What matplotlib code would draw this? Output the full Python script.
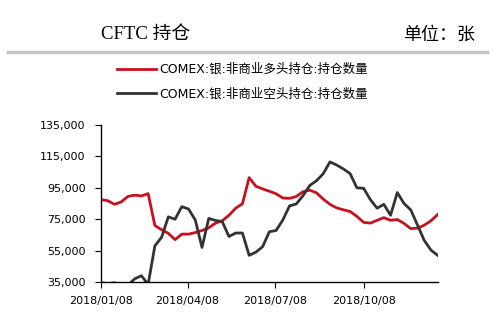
import matplotlib
matplotlib.use("Agg")
import matplotlib.pyplot as plt
import matplotlib.ticker as mticker
import pandas as pd

plt.rcParams['font.family'] = ['DejaVu Sans', 'Noto Sans CJK SC']

# weekly data, 2018/01/08 - 2018/12/24
dates = pd.date_range("2018-01-08", periods=51, freq="7D")

long_pos = [87500, 86800, 84500, 86000, 89500, 90300, 89800, 91300, 71000, 68300,
            66000, 62000, 65500, 65500, 66500, 67800, 69500, 72500, 74000, 77500,
            82000, 84800, 101500, 96000, 94300, 92800, 91200, 88500, 88300, 89500,
            92500, 93500, 91800, 87800, 84500, 82200, 81000, 79900, 76800, 73000,
            72500, 74300, 76000, 74300, 74800, 72300, 69000, 69300, 71200, 74000,
            78000]

short_pos = [34500, 34000, 34500, 32000, 33000, 37000, 39000, 33500, 58000, 63500,
             76500, 75000, 83000, 81500, 74500, 57000, 75500, 74200, 73500, 64000,
             66200, 66200, 52000, 54000, 57500, 67000, 67800, 74500, 83500, 84700,
             90000, 96500, 99500, 104000, 111500, 109500, 107000, 104000, 95000, 94700,
             87500, 82000, 84500, 77500, 92000, 85000, 80900, 71300, 61500, 55300,
             52000]

series_names = ["COMEX:银:非商业多头持仓:持仓数量", "COMEX:银:非商业空头持仓:持仓数量"]
x_ticks = ["2018-01-08", "2018-04-08", "2018-07-08", "2018-10-08"]
y_ticks = [35000, 55000, 75000, 95000, 115000, 135000]

fig = plt.figure(figsize=(5, 3.34), dpi=100)
ax = fig.add_axes([0.202, 0.1557, 0.6734, 0.470])

ax.plot(dates, long_pos, color="#c8101e", lw=2.0, label=series_names[0])
ax.plot(dates, short_pos, color="#333333", lw=2.0, label=series_names[1])

ax.set_ylim(35000, 135000)
ax.set_xlim(dates[0], dates[-1])
ax.set_yticks(y_ticks)
ax.yaxis.set_major_formatter(mticker.FuncFormatter(lambda v, p: f"{v:,.0f}"))
ax.set_xticks(pd.to_datetime(x_ticks))
ax.set_xticklabels([d.replace("-", "/") for d in x_ticks])

for s in ["top", "right"]:
    ax.spines[s].set_visible(False)
for s in ["left", "bottom"]:
    ax.spines[s].set_color("black")
    ax.spines[s].set_linewidth(1.0)
ax.tick_params(axis="y", direction="out", length=4, pad=7, labelsize=8, colors="black")
ax.tick_params(axis="x", direction="out", length=4, pad=6, labelsize=8, colors="black")

# header
fig.text(101 / 500, 1 - 35 / 334, "CFTC 持仓", fontsize=13.5, va="center", ha="left",
         family=["Liberation Serif", "Noto Sans CJK SC"])
fig.text(475 / 500, 1 - 35 / 334, "单位：张", fontsize=13, va="center", ha="right",
         family=["Noto Sans CJK SC"])
fig.add_artist(plt.Line2D([8 / 500, 487 / 500], [1 - 52 / 334, 1 - 52 / 334],
                          color="#c4c4c4", lw=2.5))

fig.legend(loc="upper left", bbox_to_anchor=(117 / 500, 1 - 63 / 334), frameon=False,
           handlelength=3.1, handletextpad=0.25, labelspacing=0.9,
           borderpad=0, borderaxespad=0,
           prop={"family": ["DejaVu Sans", "Noto Sans CJK SC"], "size": 9})

fig.savefig("out.png", dpi=100)
